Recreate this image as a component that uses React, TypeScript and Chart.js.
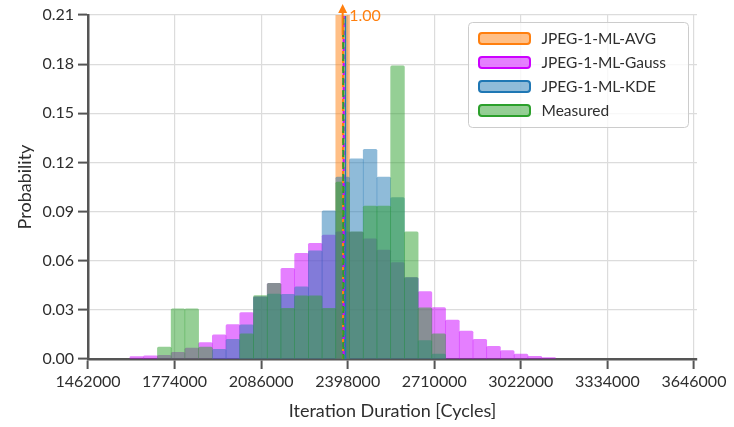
import React, { useEffect, useRef } from "react";
import { Chart, registerables } from "chart.js";

Chart.register(...registerables);

// Histogram bin centres (cycles)
const binCenters = [
  1638100, 1687550, 1737000, 1786450, 1835900, 1885350, 1934800, 1984250,
  2033700, 2083150, 2132600, 2182050, 2231500, 2280950, 2330400, 2379850,
  2429300, 2478750, 2528200, 2577650, 2627100, 2676550, 2726000, 2775450,
  2824900, 2874350, 2923800, 2973250, 3022700, 3072150, 3121600,
];

const avgValues = [
  null, null, null, null, null, null, null, null, null, null, null, null, null, null, null, 1.0,
  null, null, null, null, null, null, null, null, null, null, null, null, null, null, null,
];

const gaussValues = [
  0.0015, 0.002, 0.0022, 0.004, 0.0067, 0.01, 0.0148, 0.021,
  0.0283, 0.038, 0.0462, 0.0554, 0.0645, 0.0706, 0.0756, 0.0777,
  0.0775, 0.0733, 0.0665, 0.0588, 0.0497, 0.0411, 0.0314, 0.0238,
  0.0171, 0.012, 0.0077, 0.0051, 0.003, 0.0016, 0.0008,
];

const kdeValues = [
  null, null, null, null, null, null, 0.0059, 0.012,
  0.0208, 0.038, 0.0397, 0.0395, 0.044, 0.066, 0.0905, 0.111,
  0.1222, 0.128, 0.111, 0.0985, 0.0497, 0.0112, 0.003, null,
  null, null, null, null, null, null, null,
];

const measuredValues = [
  null, null, 0.0073, 0.0307, 0.0307, 0.0073, null, null,
  0.0153, 0.0387, 0.0462, 0.031, 0.0386, 0.0386, 0.031, 0.108,
  0.0777, 0.0934, 0.0934, 0.179, 0.0777, 0.0313, 0.0153, null,
  null, null, null, null, null, null, null,
];

// Vertical mean markers (cycles): AVG, Gauss, KDE, Measured
const meanValues = [2381000, 2383500, 2390000, 2382000];

const seriesNames = ["JPEG-1-ML-AVG", "JPEG-1-ML-Gauss", "JPEG-1-ML-KDE", "Measured"];
const seriesRgb = ["255,127,14", "204,0,255", "31,119,180", "44,160,44"];
const avgLabel = "1.00";

const xTickValues = [1462000, 1774000, 2086000, 2398000, 2710000, 3022000, 3334000, 3646000];
const yTickValues = [0, 0.03, 0.06, 0.09, 0.12, 0.15, 0.18, 0.21];

const FONT = "Lato, 'Open Sans', sans-serif";
const TEXT = "#2e2e2e";
const SPINE = "#555555";
const GRID = "#dcdcdc";

function toPoints(vals: (number | null)[]) {
  const pts: { x: number; y: number }[] = [];
  vals.forEach((v, i) => {
    if (v !== null) pts.push({ x: binCenters[i], y: v });
  });
  return pts;
}

const overlayPlugin = {
  id: "overlay",
  afterDatasetsDraw(chart: any) {
    const { ctx, chartArea, scales } = chart;
    const xs = scales.x;
    ctx.save();
    const px = meanValues.map((v) => xs.getPixelForValue(v));
    const drawLine = (x: number, rgb: string, dash: number[], off: number, w: number) => {
      ctx.beginPath();
      ctx.setLineDash(dash);
      ctx.lineDashOffset = off;
      ctx.strokeStyle = `rgb(${rgb})`;
      ctx.lineWidth = w;
      ctx.moveTo(x, chartArea.bottom);
      ctx.lineTo(x, chartArea.top + 1);
      ctx.stroke();
    };
    drawLine(px[2], seriesRgb[2], [], 0, 1.6);
    drawLine(px[0], seriesRgb[0], [4, 4], 0, 2);
    drawLine(px[1], seriesRgb[1], [4, 4], 4, 2);
    drawLine(px[3], seriesRgb[3], [7, 5], 2, 2);
    ctx.setLineDash([]);

    // arrow for the clipped AVG bar
    const idx = avgValues.findIndex((v) => v !== null);
    const ax = xs.getPixelForValue(binCenters[idx]);
    const orange = `rgb(${seriesRgb[0]})`;
    ctx.strokeStyle = orange;
    ctx.fillStyle = orange;
    ctx.lineWidth = 2;
    ctx.beginPath();
    ctx.moveTo(ax, chartArea.top + 20);
    ctx.lineTo(ax, 10);
    ctx.stroke();
    ctx.beginPath();
    ctx.moveTo(ax, 4);
    ctx.lineTo(ax - 4.5, 13);
    ctx.lineTo(ax + 4.5, 13);
    ctx.closePath();
    ctx.fill();
    ctx.font = `16px ${FONT}`;
    ctx.textAlign = "left";
    ctx.textBaseline = "middle";
    ctx.fillText(avgLabel, ax + 6.5, 16);
    ctx.restore();
  },
  afterDraw(chart: any) {
    const { ctx } = chart;
    ctx.save();
    const bx = 468.5, by = 22.5, bw = 220, bh = 105;
    ctx.beginPath();
    (ctx as any).roundRect(bx, by, bw, bh, 4);
    ctx.fillStyle = "rgba(255,255,255,0.8)";
    ctx.fill();
    ctx.strokeStyle = "#cccccc";
    ctx.lineWidth = 1;
    ctx.stroke();
    seriesNames.forEach((name, i) => {
      const cy = 38.5 + i * 24;
      ctx.beginPath();
      (ctx as any).roundRect(479, cy - 5.5, 51, 11, 3);
      ctx.fillStyle = `rgba(${seriesRgb[i]},0.5)`;
      ctx.fill();
      ctx.strokeStyle = `rgb(${seriesRgb[i]})`;
      ctx.lineWidth = 2;
      ctx.stroke();
      ctx.fillStyle = TEXT;
      ctx.font = `15.5px ${FONT}`;
      ctx.textAlign = "left";
      ctx.textBaseline = "middle";
      ctx.fillText(name, 541.5, cy + 0.5);
    });
    ctx.restore();
  },
};

export default function App() {
  const ref = useRef<HTMLCanvasElement>(null);
  useEffect(() => {
    const allVals = [avgValues, gaussValues, kdeValues, measuredValues];
    const orders = [4, 3, 2, 1];
    const chart = new Chart(ref.current as HTMLCanvasElement, {
      type: "bar",
      data: {
        datasets: allVals.map((vals, i) => ({
          label: seriesNames[i],
          data: toPoints(vals),
          backgroundColor: `rgba(${seriesRgb[i]},0.5)`,
          borderWidth: 0,
          borderRadius: 1.5,
          grouped: false,
          barPercentage: 1,
          categoryPercentage: 1,
          order: orders[i],
        })) as any,
      },
      options: {
        responsive: false,
        animation: false,
        devicePixelRatio: 1,
        layout: { padding: { left: 0, right: 37, top: 15, bottom: 0 } },
        plugins: { legend: { display: false }, tooltip: { enabled: false } },
        scales: {
          x: {
            type: "linear",
            min: 1462000,
            max: 3657000,
            offset: false,
            grid: {
              offset: false,
              color: GRID,
              lineWidth: 1.2,
              tickColor: SPINE,
              tickLength: 10,
              tickWidth: 2,
            },
            border: { color: SPINE, width: 2.5 },
            ticks: {
              autoSkip: false,
              maxRotation: 0,
              padding: 3,
              color: TEXT,
              font: { family: FONT, size: 16 },
              callback: (v: any) => String(v),
            },
            afterBuildTicks: (scale: any) => {
              scale.ticks = xTickValues.map((v) => ({ value: v }));
            },
            afterFit: (scale: any) => {
              scale.height = 68;
            },
            title: {
              display: true,
              text: "Iteration Duration [Cycles]",
              color: TEXT,
              font: { family: FONT, size: 18 },
              padding: { top: 0, bottom: 5 },
            },
          },
          y: {
            type: "linear",
            min: 0,
            max: 0.21,
            grid: {
              color: GRID,
              lineWidth: 1.2,
              tickColor: SPINE,
              tickLength: 10,
              tickWidth: 2,
            },
            border: { color: SPINE, width: 2.5 },
            ticks: {
              autoSkip: false,
              padding: 4,
              color: TEXT,
              font: { family: FONT, size: 16 },
              callback: (v: any) => Number(v).toFixed(2),
            },
            afterBuildTicks: (scale: any) => {
              scale.ticks = yTickValues.map((v) => ({ value: v }));
            },
            afterFit: (scale: any) => {
              scale.width = 88;
            },
            title: {
              display: true,
              text: "Probability",
              color: TEXT,
              font: { family: FONT, size: 18 },
              padding: { top: 14, bottom: 0 },
            },
          },
        },
      } as any,
      plugins: [overlayPlugin],
    });
    return () => chart.destroy();
  }, []);
  return (
    <div style={{ position: "fixed", left: 0, top: 0, width: 734, height: 427, background: "#ffffff" }}>
      <canvas ref={ref} width={734} height={427} style={{ display: "block", width: 734, height: 427 }} />
    </div>
  );
}
